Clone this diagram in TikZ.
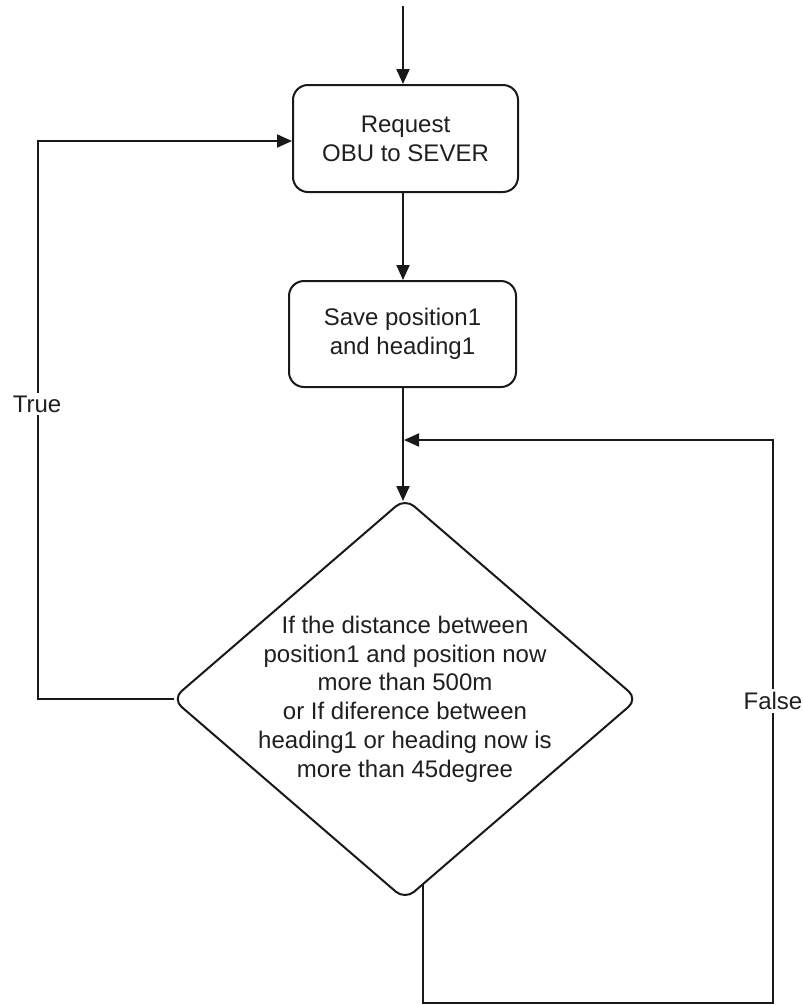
\documentclass[tikz,border=0pt]{standalone}
\usepackage{fontspec}
\setmainfont{Liberation Sans}
\usetikzlibrary{shapes.geometric,arrows.meta}
\begin{document}
\begin{tikzpicture}[x=1pt,y=-1pt,
  every node/.style={font=\fontsize{24}{28.8}\selectfont, text=black!88},
  line/.style={draw=black!90, line width=2pt},
  arr/.style={line, -{Triangle[length=15pt,width=13pt]}},
  procbox/.style={draw=black!90, line width=2pt, rectangle, rounded corners=15pt, align=center, inner sep=0pt},
  decbox/.style={draw=black!90, line width=2pt, diamond, rounded corners=12pt, inner sep=0pt, aspect=1.159, minimum width=466pt, minimum height=402pt},
  lbl/.style={fill=white, inner sep=3pt}
]
\useasboundingbox (0,0) rectangle (803,1005);
\fill[white] (0,0) rectangle (803,1005);

\node[procbox, minimum width=225pt, minimum height=107pt] (box1) at (405.5,138.5) {Request\\OBU to SEVER};
\node[procbox, minimum width=227pt, minimum height=106pt] (box2) at (402.5,334) {Save position1\\and heading1};
\node[decbox] (dec) at (405,699) {};
\node[align=center] (dectext) at (dec.center) {If the distance between\\position1 and position now\\more than 500m\\or If diference between\\heading1 or heading now is\\more than 45degree};

\coordinate (axis) at (403,0);
\coordinate (start) at (403,6);
\coordinate (tl) at (38,141);
\coordinate (fb0) at (423,884);
\coordinate (fb1) at (423,1003);
\coordinate (fb2) at (773,1003);
\coordinate (fb3) at (773,440);
\coordinate (fbend) at (404,440);

\draw[arr] (start) -- (box1.north -| axis);
\draw[arr] (box1.south -| axis) -- (box2.north -| axis);
\draw[arr] (box2.south -| axis) -- ([yshift=-4pt]dec.north -| axis);

\draw[arr] ([xshift=3pt]dec.west) -| (tl) -- (box1.west |- tl);
\draw[arr] (fb0) -- (fb1) -- (fb2) -- (fb3) -- (fbend);

\node[lbl] (truelbl) at (37,404) {True};
\node[lbl] (falselbl) at (773,701) {False};
\end{tikzpicture}
\end{document}
